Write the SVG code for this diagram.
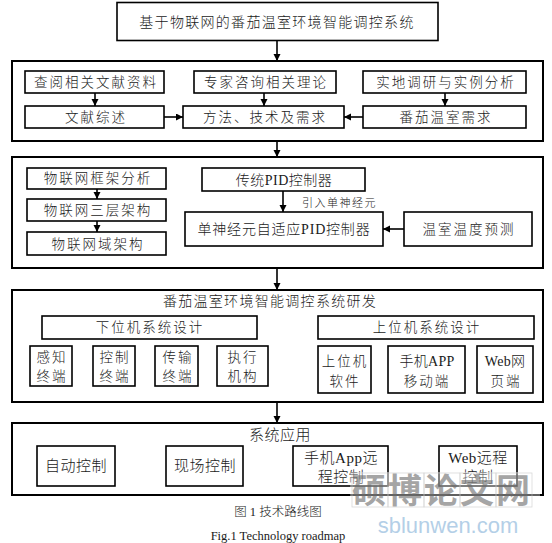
<svg xmlns="http://www.w3.org/2000/svg" width="552" height="543" viewBox="0 0 552 543">
<style>
.bx{fill:#fff;stroke:#000;stroke-width:1.6}
.big{fill:#fff;stroke:#000;stroke-width:2}
.t{font-family:"Liberation Serif","Noto Sans CJK SC",serif;font-size:13.5px;fill:#1a1a1a;text-anchor:middle;letter-spacing:2px;font-weight:300}
.tt{font-family:"Liberation Serif","Noto Sans CJK SC",serif;font-size:14px;fill:#1a1a1a;text-anchor:middle;letter-spacing:1.3px;font-weight:300}
.tb{font-family:"Liberation Serif","Noto Sans CJK SC",serif;font-size:15px;fill:#1a1a1a;text-anchor:middle;letter-spacing:0.5px;font-weight:300}
.sm{font-family:"Liberation Serif","Noto Sans CJK SC",serif;font-size:11px;fill:#1a1a1a;letter-spacing:1.5px;font-weight:300}
.cap{font-family:"Liberation Serif","Noto Sans CJK SC",serif;font-size:12.5px;fill:#1a1a1a;text-anchor:middle;font-weight:300}
.c{stroke:#000;stroke-width:1.6;fill:none}
</style>
<defs>
<marker id="ah" markerUnits="userSpaceOnUse" markerWidth="8" markerHeight="8" refX="7" refY="3.5" orient="auto">
<path d="M0,0 L7,3.5 L0,7 z" fill="#000"/>
</marker>
</defs>
<rect width="552" height="543" fill="#fff"/>

<g id="title">
<rect class="bx" x="117" y="2.5" width="321" height="38"/>
<text class="tt" x="277" y="27">基于物联网的番茄温室环境智能调控系统</text>
</g>

<g id="stage1">
<rect class="big" x="12" y="61" width="531" height="80"/>
</g>
<g id="n_chayue"><rect class="bx" x="25" y="71" width="139" height="22"/><text class="t" x="96" y="87">查阅相关文献资料</text></g>
<g id="n_zhuanjia"><rect class="bx" x="194" y="71" width="142" height="22"/><text class="t" x="266" y="87">专家咨询相关理论</text></g>
<g id="n_shidi"><rect class="bx" x="363" y="71" width="163" height="22"/><text class="t" x="446" y="87">实地调研与实例分析</text></g>
<g id="n_wenxian"><rect class="bx" x="25" y="106" width="139" height="22"/><text class="t" x="96" y="122">文献综述</text></g>
<g id="n_fangfa"><rect class="bx" x="183" y="106" width="161" height="22"/><text class="t" x="265" y="122">方法、技术及需求</text></g>
<g id="n_xuqiu"><rect class="bx" x="363" y="106" width="163" height="22"/><text class="t" x="446" y="122">番茄温室需求</text></g>

<g id="stage2">
<rect class="big" x="12" y="157" width="531" height="111"/>
</g>
<g id="n_kuangjia"><rect class="bx" x="27" y="168" width="139" height="21"/><text class="t" x="98" y="183">物联网框架分析</text></g>
<g id="n_sanceng"><rect class="bx" x="27" y="199" width="139" height="22"/><text class="t" x="98" y="215">物联网三层架构</text></g>
<g id="n_yu"><rect class="bx" x="27" y="232" width="139" height="23"/><text class="t" x="98" y="249">物联网域架构</text></g>
<g id="n_pid"><rect class="bx" x="202" y="168" width="163" height="23"/><text class="tt" x="284" y="184.5" style="letter-spacing:0.5px">传统PID控制器</text></g>
<g id="n_snpid"><rect class="bx" x="185" y="212" width="198" height="34"/><text class="tt" x="284" y="234" style="letter-spacing:0.8px">单神经元自适应PID控制器</text></g>
<g id="n_yuce"><rect class="bx" x="404" y="212" width="128" height="34"/><text class="t" x="469" y="234">温室温度预测</text></g>

<g id="stage3">
<rect class="big" x="12" y="290" width="531" height="112"/>
<text class="tt" x="270" y="306">番茄温室环境智能调控系统研发</text>
</g>
<g id="n_xiawei"><rect class="bx" x="42" y="316" width="215" height="23"/><text class="t" x="150" y="332">下位机系统设计</text></g>
<g id="n_ganzhi"><rect class="bx" x="30" y="346" width="42" height="40"/><text class="t" x="52" y="362">感知</text><text class="t" x="52" y="381">终端</text></g>
<g id="n_kongzhi"><rect class="bx" x="93" y="346" width="42" height="40"/><text class="t" x="115" y="362">控制</text><text class="t" x="115" y="381">终端</text></g>
<g id="n_chuanshu"><rect class="bx" x="155" y="346" width="43" height="40"/><text class="t" x="178" y="362">传输</text><text class="t" x="178" y="381">终端</text></g>
<g id="n_zhixing"><rect class="bx" x="217" y="346" width="51" height="40"/><text class="t" x="243" y="362">执行</text><text class="t" x="243" y="381">机构</text></g>
<g id="n_shangwei"><rect class="bx" x="318" y="316" width="216" height="23"/><text class="t" x="427" y="332">上位机系统设计</text></g>
<g id="n_swj"><rect class="bx" x="318" y="346" width="53" height="47"/><text class="t" x="345" y="366">上位机</text><text class="t" x="345" y="386">软件</text></g>
<g id="n_app"><rect class="bx" x="388" y="346" width="77" height="47"/><text class="tt" x="427" y="366" style="letter-spacing:0.3px">手机APP</text><text class="t" x="427" y="386">移动端</text></g>
<g id="n_web"><rect class="bx" x="477" y="346" width="56" height="47"/><text class="tt" x="505" y="366" style="letter-spacing:0.3px">Web网</text><text class="t" x="506" y="386">页端</text></g>

<g id="stage4">
<rect class="big" x="12" y="423" width="531" height="72"/>
<text class="tb" x="280" y="440">系统应用</text>
</g>
<g id="n_zidong"><rect class="bx" x="37" y="446" width="78" height="40"/><text class="tb" x="76" y="471">自动控制</text></g>
<g id="n_xianchang"><rect class="bx" x="166" y="446" width="77" height="40"/><text class="tb" x="205" y="471">现场控制</text></g>
<g id="n_appctl"><rect class="bx" x="293" y="446" width="95" height="40"/><text class="tb" x="341" y="463">手机App远</text><text class="tb" x="341" y="482">程控制</text></g>
<g id="n_webctl"><rect class="bx" x="439" y="446" width="78" height="40"/><text class="tb" x="478" y="463">Web远程</text><text class="tb" x="478" y="482">控制</text></g>

<g id="connectors">
<line class="c" x1="277" y1="41" x2="277" y2="61" marker-end="url(#ah)"/>
<line class="c" x1="95" y1="93" x2="95" y2="106" marker-end="url(#ah)"/>
<line class="c" x1="264" y1="93" x2="264" y2="106" marker-end="url(#ah)"/>
<line class="c" x1="445" y1="93" x2="445" y2="106" marker-end="url(#ah)"/>
<line class="c" x1="164" y1="117" x2="183" y2="117" marker-end="url(#ah)"/>
<line class="c" x1="363" y1="117" x2="344" y2="117" marker-end="url(#ah)"/>
<line class="c" x1="277" y1="141" x2="277" y2="157" marker-end="url(#ah)"/>
<line class="c" x1="97" y1="189" x2="97" y2="199" marker-end="url(#ah)"/>
<line class="c" x1="97" y1="221" x2="97" y2="232" marker-end="url(#ah)"/>
<line class="c" x1="283" y1="191" x2="283" y2="212" marker-end="url(#ah)"/>
<text class="sm" x="302" y="207">引入单神经元</text>
<line class="c" x1="404" y1="229" x2="383" y2="229" marker-end="url(#ah)"/>
<line class="c" x1="277" y1="268" x2="277" y2="290" marker-end="url(#ah)"/>
<line class="c" x1="277" y1="402" x2="277" y2="423" marker-end="url(#ah)"/>
</g>

<g id="caption">
<text class="cap" x="278" y="516">图 1 技术路线图</text>
<text class="cap" x="278" y="540">Fig.1 Technology roadmap</text>
</g>

<g id="watermark" opacity="0.75">
<rect x="350" y="472" width="190" height="36" fill="#fff" opacity="0.5"/>
<g stroke="#ccc" stroke-width="0.8" fill="none">
<rect x="352" y="473" width="36" height="34"/>
<rect x="388" y="473" width="36" height="34"/>
<rect x="424" y="473" width="36" height="34"/>
<rect x="460" y="473" width="36" height="34"/>
<rect x="496" y="473" width="36" height="34"/>
</g>
<text x="442" y="503" font-family="'Noto Sans CJK SC',sans-serif" font-size="34" font-weight="bold" fill="#888" text-anchor="middle" letter-spacing="2">硕博论文网</text>
<text x="448" y="533" font-family="'Liberation Sans',sans-serif" font-size="22" fill="#9bbfe0" text-anchor="middle">sblunwen.com</text>
</g>
</svg>
